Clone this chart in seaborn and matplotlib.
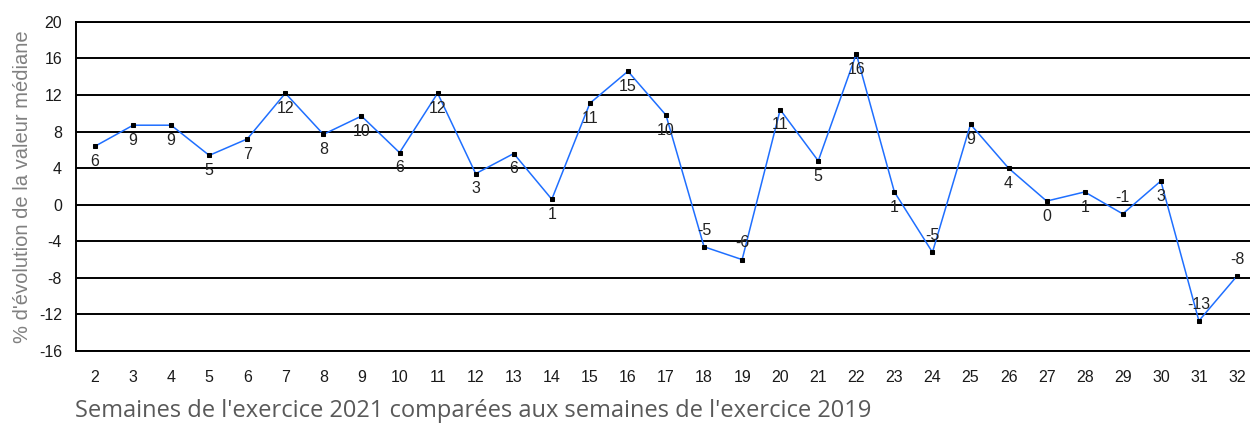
import matplotlib
matplotlib.use("Agg")
import matplotlib.pyplot as plt
import seaborn as sns
import pandas as pd

# ----------------------------
# Data
# ----------------------------
weeks = list(range(2, 33))
evolution = [6.4, 8.7, 8.7, 5.4, 7.2, 12.2, 7.7, 9.7, 5.7, 12.2,
             3.4, 5.6, 0.6, 11.1, 14.6, 9.8, -4.6, -6.0, 10.4, 4.8,
             16.5, 1.4, -5.2, 8.8, 4.0, 0.4, 1.4, -1.0, 2.6, -12.7,
             -7.8]
point_labels = ["6", "9", "9", "5", "7", "12", "8", "10", "6", "12",
                "3", "6", "1", "11", "15", "10", "-5", "-6", "11", "5",
                "16", "1", "-5", "9", "4", "0", "1", "-1", "3", "-13",
                "-8"]
y_ticks = list(range(-16, 21, 4))

df = pd.DataFrame({"Semaine": weeks, "Evolution": evolution})

# ----------------------------
# Figure
# ----------------------------
sns.set_style("white")
plt.rcParams["font.family"] = ["Liberation Sans", "DejaVu Sans"]
plt.rcParams["axes.unicode_minus"] = False

fig = plt.figure(figsize=(12.5, 4.23), dpi=100)
ax = fig.add_axes([0.0608, 0.1702, 0.944, 0.778])

for t in y_ticks:
    ax.axhline(t, color="black", lw=1.4, zorder=1)

sns.lineplot(data=df, x="Semaine", y="Evolution", ax=ax,
             color="#1f6fff", lw=1.1, marker="s", markersize=3.5,
             markerfacecolor="black", markeredgecolor="black", zorder=3)

# value labels: below the point when positive, above when negative
for w, v, lab in zip(weeks, evolution, point_labels):
    off = -11 if v >= 0 else 12
    ax.annotate(lab, (w, v), xytext=(0, off), textcoords="offset points",
                ha="center", va="center", fontsize=11.5, color="#222222",
                zorder=4)

ax.set_xlim(1.5, 32.5)
ax.set_ylim(-16, 20)
ax.set_xticks(weeks)
ax.set_yticks(y_ticks)
ax.tick_params(axis="both", length=0, labelsize=11.5, labelcolor="#1a1a1a")
ax.tick_params(axis="y", pad=10)
ax.tick_params(axis="x", pad=14)

for side in ["left", "bottom", "top"]:
    ax.spines[side].set_color("black")
    ax.spines[side].set_linewidth(1.4)
ax.spines["right"].set_visible(False)

ax.set_xlabel("")
ax.set_ylabel("% d'évolution de la valeur médiane", fontsize=14.5,
              color="#808080", labelpad=5)

fig.text(0.06, 0.014, "Semaines de l'exercice 2021 comparées aux semaines de l'exercice 2019",
         fontsize=17, color="#595959", family=["Open Sans", "DejaVu Sans"],
         ha="left", va="baseline")

fig.savefig("out.png", dpi=100)
plt.close()
